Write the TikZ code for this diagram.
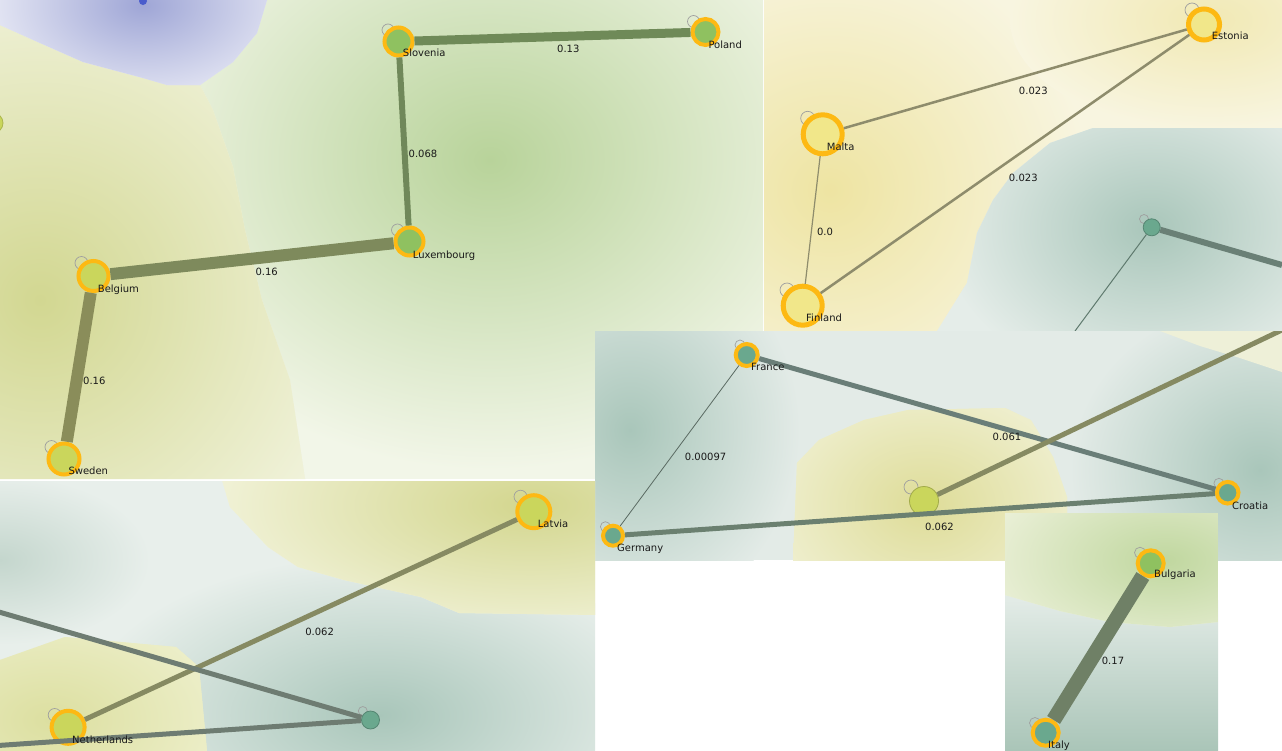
\documentclass[tikz,border=0pt]{standalone}
\usepackage{fontspec}
\setmainfont{DejaVu Sans}
\definecolor{ring}{HTML}{FDB913}
\definecolor{gN}{HTML}{8FC160}
\definecolor{yN}{HTML}{CAD65C}
\definecolor{pY}{HTML}{F1E78A}
\definecolor{tN}{HTML}{6AA88E}
\definecolor{Abase}{HTML}{F2F6E8}
\definecolor{Agreen}{HTML}{B8D39A}
\definecolor{Ayel}{HTML}{D2D791}
\definecolor{AyelOut}{HTML}{F1F3DC}
\definecolor{Ablue}{HTML}{9FA6D6}
\definecolor{AblueOut}{HTML}{E3E5F3}
\definecolor{Bbase}{HTML}{F8F5E0}
\definecolor{Byel}{HTML}{EEE4A2}
\definecolor{Byel2}{HTML}{F1E9B4}
\definecolor{Ctealbase}{HTML}{E3EBE7}
\definecolor{tealDeep}{HTML}{A9C6BA}
\definecolor{BtealOut}{HTML}{E5EDE9}
\definecolor{CyelOut}{HTML}{EEEECC}
\definecolor{CyelIn}{HTML}{DEDC98}
\definecolor{Cpale}{HTML}{EEF0D8}
\definecolor{Dbase}{HTML}{E8EFEB}
\definecolor{Dtl}{HTML}{C4D6CD}
\definecolor{DyelOut}{HTML}{F2F3DA}
\definecolor{DyelIn}{HTML}{D3D68E}
\definecolor{DblOut}{HTML}{ECEEC8}
\definecolor{DblIn}{HTML}{DCDFA0}
\definecolor{EtopOut}{HTML}{EEF2DC}
\definecolor{EtopIn}{HTML}{C0D79F}
\definecolor{Etealtop}{HTML}{E2EBE6}
\definecolor{Etealbot}{HTML}{AAC5B8}
\definecolor{eSP}{HTML}{6F8A58}
\definecolor{eSL}{HTML}{70885A}
\definecolor{eBL}{HTML}{7E8A5C}
\definecolor{eBS}{HTML}{8A8D5A}
\definecolor{eB}{HTML}{8E8C6C}
\definecolor{eTB}{HTML}{6A8076}
\definecolor{eTBthin}{HTML}{5F7A6E}
\definecolor{eFC}{HTML}{6A7E78}
\definecolor{eGC}{HTML}{6B8070}
\definecolor{eGF}{HTML}{5A6A62}
\definecolor{eOl}{HTML}{868A62}
\definecolor{eDg}{HTML}{6E7C72}
\definecolor{eBI}{HTML}{6F8066}
\definecolor{blueDot}{HTML}{4A5CCC}
\begin{document}
\begin{tikzpicture}[x=1pt,y=-1pt,
  lab/.style={font=\fontsize{10}{12}\selectfont, text=black!90, inner sep=0pt, anchor=base west},
  elab/.style={font=\fontsize{10}{12}\selectfont, text=black!90, inner sep=0pt},
  loopc/.style={draw=gray!75, line width=0.7pt},
  rnode/.style 2 args={circle, fill=#1, draw=ring, line width=4pt, inner sep=0pt, minimum size=#2},
  pnode/.style 2 args={circle, fill=#1, draw=#1!80!black, line width=0.8pt, inner sep=0pt, minimum size=#2},
  edge/.style 2 args={draw=#1, line width=#2},
]
\useasboundingbox (0,0) rectangle (1282,750);
\fill[white] (0,0) rectangle (1282,750);

% ---------------- Panel A ----------------
\begin{scope}
\clip (0,0) rectangle (763,479);
\fill[Abase] (0,0) rectangle (763,479);
\shade[inner color=Agreen, outer color=Abase] (490,160) ellipse (380 and 310);
\begin{scope}
\clip (0,25) -- (40,43) -- (83,62) -- (143,78) -- (200,85) -- (213,110) -- (233,167) -- (245,230) -- (262,300) -- (290,380) -- (305,479) -- (0,479) -- cycle;
\fill[AyelOut] (0,0) rectangle (320,479);
\shade[inner color=Ayel, outer color=AyelOut] (40,300) ellipse (330 and 330);
\end{scope}
\begin{scope}
\clip (0,0) -- (0,25) -- (40,43) -- (83,62) -- (143,78) -- (167,85) -- (200,85) -- (233,62) -- (257,33) -- (267,0) -- cycle;
\fill[AblueOut] (0,0) rectangle (270,90);
\shade[inner color=Ablue, outer color=AblueOut] (143,5) ellipse (150 and 95);
\end{scope}
\fill[blueDot] (143,1) circle (4);
\node[circle, fill=yN, draw=yN!85!black, line width=0.8pt, minimum size=20pt, inner sep=0pt] (edgeA) at (-7,123) {};
% loops
\draw[loopc] (388,30) circle (6);
\draw[loopc] (693.5,21.5) circle (6);
\draw[loopc] (397.5,230) circle (6);
\draw[loopc] (81.5,263) circle (6.5);
\draw[loopc] (51.5,447) circle (6.5);
% nodes
\node[rnode={gN}{28pt}] (slo) at (398.5,41.5) {};
\node[rnode={gN}{26pt}] (pol) at (705.5,32) {};
\node[rnode={gN}{28pt}] (lux) at (409.5,241.5) {};
\node[rnode={yN}{30pt}] (bel) at (93.5,276) {};
\node[rnode={yN}{31pt}] (swe) at (64,459) {};
% edges
\draw[edge={eSP}{9pt}] (slo) -- (pol);
\draw[edge={eSL}{6pt}] (slo) -- (lux);
\draw[edge={eBL}{12pt}] (bel) -- (lux);
\draw[edge={eBS}{12pt}] (bel) -- (swe);
% labels
\node[lab] (lslo) at (402.7,56.9) {Slovenia};
\node[lab] (lpol) at (708.3,48.6) {Poland};
\node[lab] (llux) at (412.7,258.6) {Luxembourg};
\node[lab] (lbel) at (97.7,292.9) {Belgium};
\node[lab] (lswe) at (68.3,474.6) {Sweden};
\node[elab] (wsp) at (568.3,49.3) {0.13};
\node[elab] (wsl) at (423,154) {0.068};
\node[elab] (wbl) at (266.7,272.3) {0.16};
\node[elab] (wbs) at (94.3,380.7) {0.16};
\end{scope}

% ---------------- Panel B ----------------
\begin{scope}
\clip (764,0) rectangle (1282,330);
\fill[Bbase] (764,0) rectangle (1282,330);
\shade[inner color=Byel, outer color=Bbase] (830,190) ellipse (260 and 250);
\shade[inner color=Byel2, outer color=Bbase] (1210,20) ellipse (200 and 110);
\begin{scope}
\clip (1282,128) -- (1093,128) -- (1050,143) -- (1013,173) -- (993,200) -- (977,233) -- (967,283) -- (950,310) -- (937,331) -- (1282,331) -- cycle;
\fill[BtealOut] (930,120) rectangle (1282,331);
\shade[inner color=tealDeep, outer color=BtealOut] (1150,228) ellipse (210 and 160);
\end{scope}
\draw[loopc] (1192,10) circle (7);
\draw[loopc] (807.7,118.3) circle (7);
\draw[loopc] (787,290) circle (7);
\draw[loopc] (1144,219) circle (4.5);
\node[rnode={pY}{31pt}, line width=5pt] (est) at (1204,24.5) {};
\node[rnode={pY}{39pt}, line width=5pt] (mal) at (822.7,134.3) {};
\node[rnode={pY}{39pt}, line width=5pt] (fin) at (802.7,305.7) {};
\node[pnode={tN}{17pt}] (tb) at (1151.7,227.3) {};
\coordinate (tbR) at (1282,265);
\coordinate (tbD) at (1075,331);
\draw[edge={eB}{2.5pt}] (mal) -- (est);
\draw[edge={eB}{2.5pt}] (fin) -- (est);
\draw[edge={eB}{1.2pt}] (mal) -- (fin);
\draw[edge={eTB}{6pt}] (tb) -- (tbR);
\draw[edge={eTBthin}{1pt}] (tb) -- (tbD);
\node[lab] (lest) at (1211.7,39.6) {Estonia};
\node[lab] (lmal) at (826.7,150.3) {Malta};
\node[lab] (lfin) at (806,321.9) {Finland};
\node[elab] (wme) at (1033.3,90.7) {0.023};
\node[elab] (wfe) at (1023.3,177.7) {0.023};
\node[elab] (wmf) at (825,232.3) {0.0};
\end{scope}

% ---------------- Panel C ----------------
\begin{scope}
\clip (595,331) rectangle (1282,560);
\fill[Ctealbase] (595,331) rectangle (1282,560);
\shade[inner color=tealDeep, outer color=Ctealbase] (630,430) ellipse (170 and 190);
\shade[inner color=tealDeep, outer color=Ctealbase] (1260,470) ellipse (190 and 170);
\begin{scope}
\clip (793,561) -- (797,463) -- (819,440) -- (864,420) -- (908,410) -- (1005,408) -- (1031,420) -- (1053,457) -- (1067,497) -- (1067,561) -- cycle;
\fill[CyelOut] (790,400) rectangle (1070,561);
\shade[inner color=CyelIn, outer color=CyelOut] (925,505) ellipse (150 and 115);
\end{scope}
\fill[Cpale] (1160,331) -- (1282,331) -- (1282,372) -- (1240,358) -- (1200,346) -- cycle;
\draw[loopc] (740,345) circle (5);
\draw[loopc] (605.4,526.7) circle (5);
\draw[loopc] (1218.9,483.3) circle (5);
\draw[loopc] (911,487) circle (7);
\node[rnode={tN}{22pt}] (fra) at (746.7,355) {};
\node[rnode={tN}{20pt}] (ger) at (613,535.7) {};
\node[rnode={tN}{21.6pt}] (cro) at (1227.7,492.7) {};
\node[pnode={yN}{29pt}] (yc) at (924,501) {};
\coordinate (ycR) at (1284,329);
\draw[edge={eFC}{5pt}] (fra) -- (cro);
\draw[edge={eGC}{5pt}] (ger) -- (cro);
\draw[edge={eGF}{0.8pt}] (ger) -- (fra);
\draw[edge={eOl}{5pt}] (yc) -- (ycR);
\node[lab] (lfra) at (751,370.3) {France};
\node[lab] (lger) at (617,551.6) {Germany};
\node[lab] (lcro) at (1232,509.3) {Croatia};
\node[elab] (wfc) at (1007,436.7) {0.061};
\node[elab] (wgf) at (705.6,456.7) {0.00097};
\node[elab] (wgc) at (939.5,526.7) {0.062};
\end{scope}

% ---------------- Panel D ----------------
\begin{scope}
\clip (0,481) rectangle (595,750);
\fill[Dbase] (0,481) rectangle (595,750);
\shade[inner color=Dtl, outer color=Dbase] (0,560) ellipse (150 and 85);
\shade[inner color=tealDeep, outer color=Dbase] (380,715) ellipse (300 and 160);
\begin{scope}
\clip (222,480) -- (230,507) -- (268,547) -- (298,567) -- (344,580) -- (421,597) -- (459,613) -- (596,615) -- (596,480) -- cycle;
\fill[DyelOut] (220,480) rectangle (596,620);
\shade[inner color=DyelIn, outer color=DyelOut] (530,505) ellipse (330 and 140);
\end{scope}
\begin{scope}
\clip (0,660) -- (65,637) -- (176,647) -- (199,667) -- (207,751) -- (0,751) -- cycle;
\fill[DblOut] (0,630) rectangle (210,751);
\shade[inner color=DblIn, outer color=DblOut] (50,720) ellipse (170 and 110);
\end{scope}
\draw[loopc] (520.5,496.7) circle (6.5);
\draw[loopc] (54.7,715) circle (6.5);
\draw[loopc] (362.8,711) circle (4.5);
\node[rnode={yN}{33pt}] (lat) at (533.8,511.7) {};
\node[rnode={yN}{33pt}] (net) at (68.1,727.3) {};
\node[pnode={tN}{18pt}] (td) at (370.5,720) {};
\coordinate (dL1) at (-2,611.7);
\coordinate (dL2) at (-2,745.5);
\draw[edge={eOl}{5pt}] (net) -- (lat);
\draw[edge={eDg}{5pt}] (dL1) -- (td);
\draw[edge={eDg}{5pt}] (td) -- (dL2);
\node[lab] (llat) at (537.7,527.6) {Latvia};
\node[lab] (lnet) at (72,743.6) {Netherlands};
\node[elab] (wnl) at (319.6,632.3) {0.062};
\end{scope}

% ---------------- Panel E ----------------
\begin{scope}
\clip (1005,513) rectangle (1218,750);
\fill[Etealtop] (1005,513) rectangle (1218,750);
\shade[top color=Etealtop, bottom color=Etealbot] (1005,600) rectangle (1218,750);
\begin{scope}
\clip (1005,513) -- (1218,513) -- (1218,622) -- (1170,627) -- (1110,622) -- (1060,611) -- (1005,595) -- cycle;
\fill[EtopOut] (1005,513) rectangle (1218,630);
\shade[inner color=EtopIn, outer color=EtopOut] (1165,560) ellipse (200 and 110);
\end{scope}
\draw[loopc] (1140,552.7) circle (5.5);
\draw[loopc] (1035,723) circle (5.5);
\node[rnode={gN}{26pt}] (bul) at (1150.7,563.3) {};
\node[rnode={tN}{26pt}] (ita) at (1045.7,732.7) {};
\draw[edge={eBI}{15pt}] (bul) -- (ita);
\node[lab] (lbul) at (1154,577.6) {Bulgaria};
\node[lab] (lita) at (1048,748.6) {Italy};
\node[elab] (wbi) at (1113,660.7) {0.17};
\end{scope}
\end{tikzpicture}
\end{document}
